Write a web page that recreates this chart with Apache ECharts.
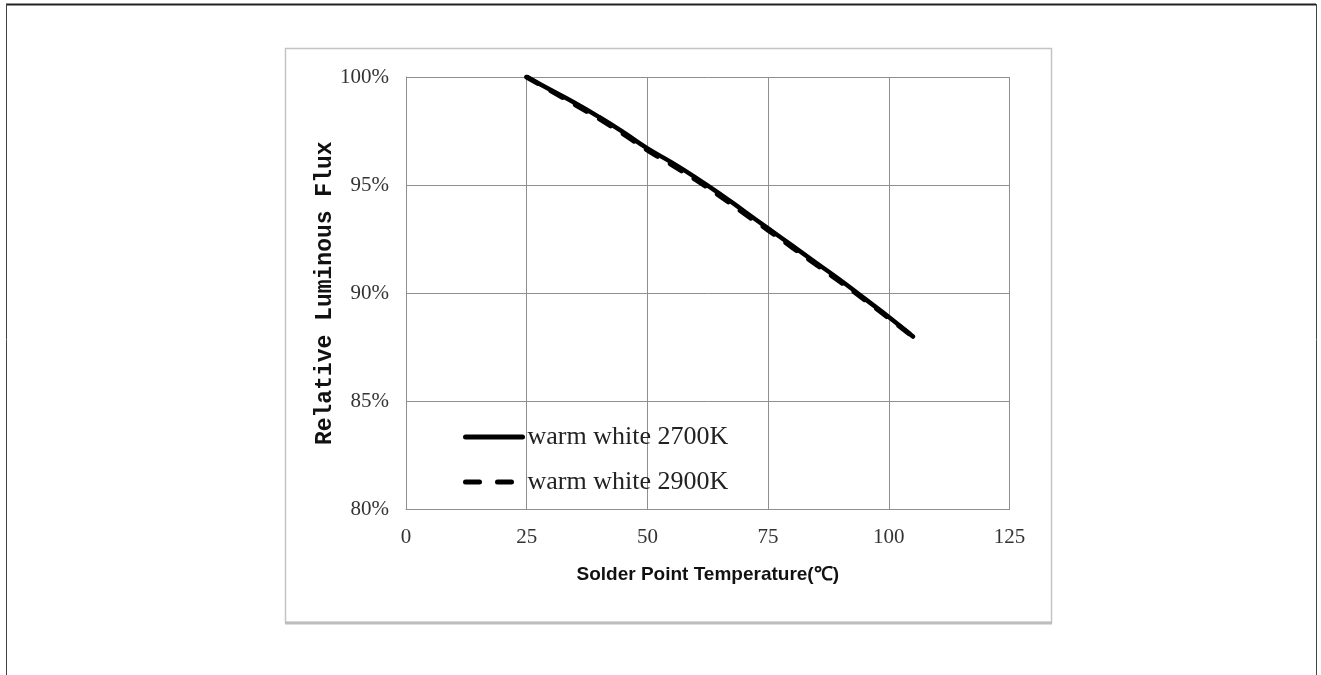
<!DOCTYPE html>
<html>
<head>
<meta charset="utf-8">
<script src="https://cdn.jsdelivr.net/npm/echarts@6/dist/echarts.min.js"></script>
<style>
html,body{margin:0;padding:0;background:#fff;}
#chart{width:1321px;height:675px;}
</style>
</head>
<body>
<div id="chart"></div>
<script>
// Data
const temps = [25, 30, 35, 40, 45, 50, 55, 60, 65, 70, 75, 80, 85, 90, 95, 100, 105];
const flux2700 = [100, 99.4, 98.8, 98.15, 97.45, 96.7, 96.05, 95.35, 94.6, 93.8, 93.0, 92.2, 91.4, 90.6, 89.75, 88.9, 88.0];
const flux2900 = [100, 99.36, 98.72, 98.07, 97.37, 96.62, 95.95, 95.25, 94.5, 93.7, 92.92, 92.12, 91.32, 90.52, 89.7, 88.85, 88.0];
const seriesNames = ['warm white 2700K', 'warm white 2900K'];
const xTicks = [0, 25, 50, 75, 100, 125];
const yTicks = [80, 85, 90, 95, 100];
const xName = 'Solder Point Temperature(℃)';
const yName = 'Relative Luminous Flux';

const pairs = (xs, ys) => xs.map((x, i) => [x, ys[i]]);

const chart = echarts.init(document.getElementById('chart'), null, {renderer: 'canvas'});
const gridColor = '#8f8f8f';
const option = {
  backgroundColor: '#fff',
  animation: false,
  graphic: [
    {type: 'line', shape: {x1: 6, y1: 4.5, x2: 1316, y2: 4.5}, style: {stroke: '#222', lineWidth: 2}, silent: true},
    {type: 'line', shape: {x1: 6.5, y1: 4, x2: 6.5, y2: 675}, style: {stroke: '#444', lineWidth: 1}, silent: true},
    {type: 'line', shape: {x1: 1316.5, y1: 4, x2: 1316.5, y2: 675}, style: {stroke: '#444', lineWidth: 1}, silent: true},
    {type: 'rect', shape: {x: 285.5, y: 48.5, width: 766, height: 574}, style: {fill: 'none', stroke: '#c4c4c4', lineWidth: 1.5}, silent: true, z: -1},
    {type: 'line', shape: {x1: 285, y1: 623, x2: 1052, y2: 623}, style: {stroke: '#bdbdbd', lineWidth: 3}, silent: true, z: -1}
  ],
  grid: {left: 406, right: 311.5, top: 77, bottom: 165.5, containLabel: false},
  legend: {
    orient: 'vertical',
    left: 458,
    top: 419,
    padding: 5,
    itemWidth: 57,
    itemHeight: 14,
    itemGap: 19,
    data: [
      {name: seriesNames[0]},
      {name: seriesNames[1], lineStyle: {type: [14, 18], cap: 'round', width: 5}}
    ],
    textStyle: {fontFamily: 'Liberation Serif', fontSize: 26, color: '#222', lineHeight: 26},
    itemStyle: {opacity: 0},
    lineStyle: {width: 5, cap: 'round'}
  },
  xAxis: {
    type: 'value',
    min: 0, max: 125, interval: 25,
    name: xName,
    nameLocation: 'middle',
    nameGap: 56,
    nameMoveOverlap: false,
    nameTextStyle: {fontFamily: 'Liberation Sans', fontWeight: 'bold', fontSize: 19, color: '#111'},
    axisLine: {show: true, lineStyle: {color: gridColor, width: 1}},
    axisTick: {show: false},
    splitLine: {show: true, lineStyle: {color: gridColor, width: 1}},
    axisLabel: {
      margin: 17,
      fontFamily: 'Liberation Serif', fontSize: 21, color: '#333',
      customValues: xTicks
    }
  },
  yAxis: {
    type: 'value',
    min: 80, max: 100, interval: 5,
    name: yName,
    nameLocation: 'middle',
    nameGap: 69,
    nameMoveOverlap: false,
    nameRotate: 90,
    nameTextStyle: {fontFamily: 'Liberation Mono', fontWeight: 'bold', fontSize: 23, color: '#111'},
    axisLine: {show: true, lineStyle: {color: gridColor, width: 1}},
    axisTick: {show: false},
    splitLine: {show: true, lineStyle: {color: gridColor, width: 1}},
    axisLabel: {
      margin: 17,
      fontFamily: 'Liberation Serif', fontSize: 21, color: '#333',
      formatter: v => v + '%',
      customValues: yTicks
    }
  },
  series: [
    {
      name: seriesNames[1],
      type: 'line',
      data: pairs(temps, flux2900),
      symbol: 'none',
      smooth: true,
      z: 2,
      lineStyle: {color: '#000', width: 5, type: [13, 15], cap: 'round'}
    },
    {
      name: seriesNames[0],
      type: 'line',
      data: pairs(temps, flux2700),
      symbol: 'none',
      smooth: true,
      z: 3,
      lineStyle: {color: '#000', width: 4.5, type: 'solid', cap: 'round'}
    }
  ]
};
chart.setOption(option);
</script>
</body>
</html>
